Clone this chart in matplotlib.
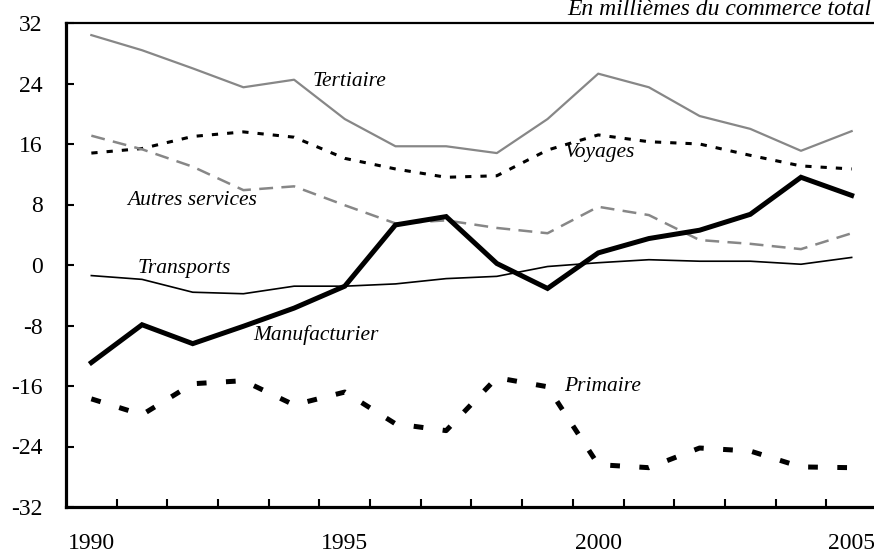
import matplotlib
matplotlib.use("Agg")
import matplotlib.pyplot as plt
import numpy as np

plt.rcParams['font.family'] = ['Liberation Serif', 'DejaVu Serif']
plt.rcParams['lines.scale_dashes'] = False
plt.rcParams['axes.unicode_minus'] = False

years = list(range(1990, 2006))
tick_years = [1990, 1995, 2000, 2005]

tertiaire = [30.4, 28.4, 26.0, 23.5, 24.5, 19.3, 15.7, 15.7, 14.8, 19.3, 25.3, 23.5, 19.7, 18.0, 15.1, 17.7]
voyages = [14.8, 15.4, 17.0, 17.6, 16.9, 14.1, 12.7, 11.6, 11.8, 15.2, 17.2, 16.3, 16.0, 14.5, 13.1, 12.7]
autres_services = [17.1, 15.3, 13.0, 9.9, 10.4, 7.9, 5.5, 5.9, 4.9, 4.2, 7.7, 6.6, 3.3, 2.8, 2.1, 4.2]
transports = [-1.4, -1.9, -3.6, -3.8, -2.8, -2.8, -2.5, -1.8, -1.5, -0.2, 0.3, 0.7, 0.5, 0.5, 0.1, 1.0]
manufacturier = [-12.9, -7.9, -10.4, -8.1, -5.7, -2.8, 5.3, 6.4, 0.2, -3.1, 1.6, 3.5, 4.6, 6.7, 11.6, 9.2]
primaire = [-17.7, -19.8, -15.7, -15.3, -18.5, -16.8, -21.0, -21.9, -14.9, -16.1, -26.4, -26.8, -24.2, -24.6, -26.7, -26.8]

gray = '#878787'

fig = plt.figure(figsize=(8.74, 5.54), dpi=100)
ax = fig.add_axes([66 / 874, 1 - 507 / 554, 811 / 874, 484 / 554])

x = np.arange(len(years))
ax.plot(x, tertiaire, color=gray, lw=1.6)
ax.plot(x, voyages, color='black', lw=2.2, dashes=(4.5, 6.5))
ax.plot(x, autres_services, color=gray, lw=1.8, dashes=(10, 6))
ax.plot(x, transports, color='black', lw=1.2)
ax.plot(x, manufacturier, color='black', lw=3.6, solid_joinstyle='miter')
ax.plot(x, primaire, color='black', lw=3.6, dashes=(7, 14))

lab = dict(fontsize=15.5, style='italic', va='center', ha='left')
ax.text(4.36, 24.3, 'Tertiaire', **lab)
ax.text(9.35, 14.9, 'Voyages', **lab)
ax.text(0.71, 8.5, 'Autres services', **lab)
ax.text(0.91, -0.4, 'Transports', **lab)
ax.text(3.2, -9.3, 'Manufacturier', **lab)
ax.text(9.33, -16.1, 'Primaire', **lab)

fig.text(871 / 874, 1 - 15 / 554, 'En millièmes du commerce total', fontsize=17,
         style='italic', ha='right', va='baseline')

ax.set_xlim(-0.5, len(years) - 0.5)
ax.set_ylim(-32, 32)
ax.set_yticks(np.arange(-32, 33, 8))
ax.set_xticks([years.index(y) for y in tick_years])
ax.set_xticklabels([str(y) for y in tick_years])
ax.set_xticks(np.arange(0.5, len(years) - 0.5, 1), minor=True)

ax.tick_params(axis='x', which='major', length=0, pad=19, labelsize=17)
ax.tick_params(axis='x', which='minor', direction='in', length=6, width=1.5)
ax.tick_params(axis='y', direction='in', length=6, width=1.5, pad=17, labelsize=17)

ax.spines['right'].set_visible(False)
ax.spines['left'].set_linewidth(2.3)
ax.spines['bottom'].set_linewidth(2.3)
ax.spines['top'].set_linewidth(1.6)
for s in ax.spines.values():
    s.set_clip_on(False)

fig.savefig('out.png', dpi=100)
